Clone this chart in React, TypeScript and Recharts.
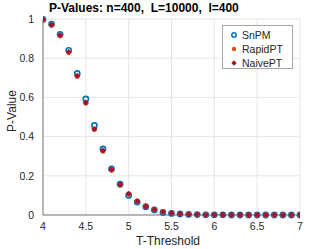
import { ScatterChart, Scatter, XAxis, YAxis, CartesianGrid } from "recharts";

const thresholds = [
  4.0, 4.1, 4.2, 4.3, 4.4, 4.5, 4.6, 4.7, 4.8, 4.9, 5.0, 5.1, 5.2, 5.3, 5.4, 5.5,
  5.6, 5.7, 5.8, 5.9, 6.0, 6.1, 6.2, 6.3, 6.4, 6.5, 6.6, 6.7, 6.8, 6.9, 7.0,
];
const snpm = [
  0.998, 0.974, 0.922, 0.84, 0.722, 0.592, 0.457, 0.337, 0.235, 0.157, 0.1, 0.066, 0.042, 0.026, 0.013, 0.008,
  0.005, 0.003, 0.002, 0.001, 0.001, 0.001, 0.0, 0.0, 0.0, 0.0, 0.0, 0.0, 0.0, 0.0, 0.0,
];
const rapidpt = [
  0.996, 0.97, 0.915, 0.83, 0.708, 0.572, 0.437, 0.327, 0.23, 0.155, 0.108, 0.071, 0.045, 0.029, 0.017, 0.01,
  0.006, 0.004, 0.002, 0.001, 0.001, 0.001, 0.0, 0.0, 0.0, 0.0, 0.0, 0.0, 0.0, 0.0, 0.0,
];
const naivept = [
  0.997, 0.971, 0.917, 0.832, 0.711, 0.574, 0.439, 0.329, 0.232, 0.156, 0.107, 0.07, 0.044, 0.028, 0.016, 0.01,
  0.006, 0.004, 0.002, 0.001, 0.001, 0.001, 0.0, 0.0, 0.0, 0.0, 0.0, 0.0, 0.0, 0.0, 0.0,
];
const xTicks = [4, 4.5, 5, 5.5, 6, 6.5, 7];
const yTicks = [0, 0.2, 0.4, 0.6, 0.8, 1];

const BLUE = "#0072BD";
const ORANGE = "#D95319";
const RED = "#A2142F";
const FONT = "'Liberation Sans', Arial, Helvetica, sans-serif";

const toPoints = (ys: number[]) => thresholds.map((t, i) => ({ t, p: ys[i] }));

const OpenCircle = (props: any) => (
  <circle cx={props.cx} cy={props.cy} r={2.6} fill="none" stroke={BLUE} strokeWidth={1.6} />
);
const Dot = (props: any) => <circle cx={props.cx} cy={props.cy} r={2.6} fill={ORANGE} />;
const Diamond = (props: any) => {
  const { cx, cy } = props;
  const s = 3;
  return <path d={`M${cx},${cy - s}L${cx + s},${cy}L${cx},${cy + s}L${cx - s},${cy}Z`} fill={RED} />;
};

function LegendBox() {
  const rows = [
    { name: "SnPM", icon: <circle cx={5} cy={5} r={2.2} fill="none" stroke={BLUE} strokeWidth={1.5} /> },
    { name: "RapidPT", icon: <circle cx={5} cy={5} r={2.2} fill={ORANGE} /> },
    { name: "NaivePT", icon: <path d="M5,2.3L7.7,5L5,7.7L2.3,5Z" fill={RED} /> },
  ];
  return (
    <div
      style={{
        position: "absolute",
        left: 222,
        top: 25,
        width: 71,
        height: 44,
        boxSizing: "border-box",
        border: "1px solid #a6a6a6",
        background: "#fff",
        paddingTop: 2,
        zIndex: 2,
      }}
    >
      {rows.map((r) => (
        <div key={r.name} style={{ display: "flex", alignItems: "center", height: 14 }}>
          <svg width={10} height={10} style={{ marginLeft: 6, marginRight: 3 }}>
            {r.icon}
          </svg>
          <span style={{ fontFamily: FONT, fontSize: 10.5, color: "#262626" }}>{r.name}</span>
        </div>
      ))}
    </div>
  );
}

export default function App() {
  const tickStyle = { fontFamily: FONT, fontSize: 10.5, fill: "#262626" };
  return (
    <div style={{ position: "absolute", left: 0, top: 0, width: 332, height: 249, background: "#fff" }}>
      <div
        style={{
          position: "absolute",
          left: 49,
          top: 2,
          fontFamily: FONT,
          fontSize: 12,
          fontWeight: "bold",
          lineHeight: "12px",
          whiteSpace: "pre",
          color: "#000",
          zIndex: 2,
        }}
      >
        {"P-Values: n=400,  L=10000,  l=400"}
      </div>
      <div
        style={{
          position: "absolute",
          left: 168,
          top: 235,
          transform: "translateX(-50%)",
          fontFamily: FONT,
          fontSize: 12,
          lineHeight: "12px",
          color: "#262626",
          whiteSpace: "nowrap",
        }}
      >
        T-Threshold
      </div>
      <div
        style={{
          position: "absolute",
          left: 12,
          top: 111,
          transform: "translate(-50%, -50%) rotate(-90deg)",
          fontFamily: FONT,
          fontSize: 12,
          lineHeight: "12px",
          color: "#262626",
          whiteSpace: "nowrap",
        }}
      >
        P-Value
      </div>
      <LegendBox />
      <ScatterChart width={332} height={249} margin={{ top: 19, right: 32, left: 0, bottom: 0 }}>
        <CartesianGrid stroke="#e6e6e6" strokeWidth={1} />
        <XAxis
          type="number"
          dataKey="t"
          domain={[4, 7]}
          ticks={xTicks}
          height={34}
          tickLine={false}
          tickSize={0}
          tickMargin={8}
          axisLine={{ stroke: "#7a7a7a" }}
          tick={tickStyle}
          allowDataOverflow
        />
        <YAxis
          type="number"
          dataKey="p"
          domain={[0, 1]}
          ticks={yTicks}
          width={43}
          tickLine={false}
          tickSize={0}
          tickMargin={9}
          axisLine={{ stroke: "#7a7a7a" }}
          tick={tickStyle}
          tickFormatter={(v: number) => String(v)}
        />
        <Scatter name="SnPM" data={toPoints(snpm)} shape={OpenCircle} isAnimationActive={false} />
        <Scatter name="RapidPT" data={toPoints(rapidpt)} shape={Dot} isAnimationActive={false} />
        <Scatter name="NaivePT" data={toPoints(naivept)} shape={Diamond} isAnimationActive={false} />
      </ScatterChart>
    </div>
  );
}
